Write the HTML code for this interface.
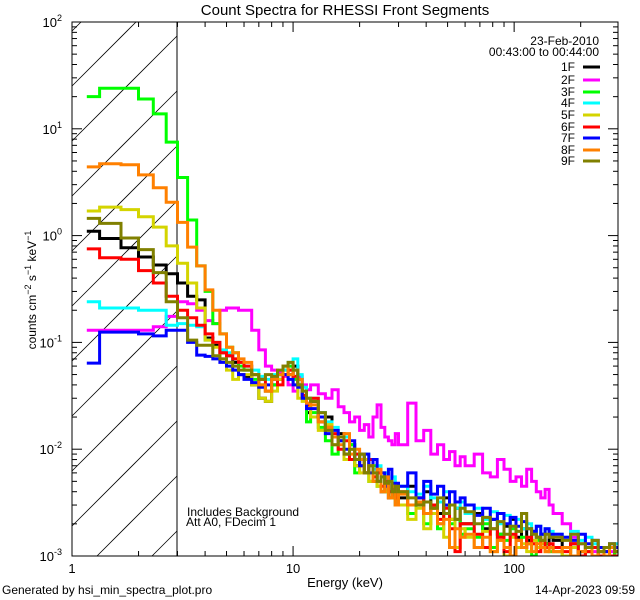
<!DOCTYPE html>
<html><head><meta charset="utf-8"><style>
html,body{margin:0;padding:0;background:#fff;width:640px;height:600px;overflow:hidden;}
svg{display:block;font-family:"Liberation Sans",sans-serif;}
</style></head><body>
<svg id="chart" width="640" height="600" xmlns="http://www.w3.org/2000/svg">
<rect x="0" y="0" width="640" height="600" fill="#fff"/>
<defs><clipPath id="plotclip"><rect x="72" y="22" width="546" height="534"/></clipPath></defs>
<text x="345" y="15" font-size="15" text-anchor="middle">Count Spectra for RHESSI Front Segments</text>
<g id="hatch" stroke="#000" stroke-width="0.8"></g>
<line x1="177" y1="22" x2="177" y2="556" stroke="#000" stroke-width="1"/>
<g id="series" clip-path="url(#plotclip)"></g>
<g id="axes" stroke="#000" stroke-width="1" fill="none"></g>
<g id="labels" font-size="13"></g>
<text transform="translate(36,290) rotate(-90)" font-size="12" text-anchor="middle">counts cm<tspan dy="-5" font-size="9">−2</tspan><tspan dy="5"> s</tspan><tspan dy="-5" font-size="9">−1</tspan><tspan dy="5"> keV</tspan><tspan dy="-5" font-size="9">−1</tspan></text>
<text x="345" y="587" font-size="13" text-anchor="middle">Energy (keV)</text>
<text x="2" y="594" font-size="12">Generated by hsi_min_spectra_plot.pro</text>
<text x="635" y="594" font-size="12" text-anchor="end">14-Apr-2023 09:59</text>
<text x="599" y="45" font-size="12" text-anchor="end">23-Feb-2010</text>
<text x="599" y="56" font-size="12" text-anchor="end">00:43:00 to 00:44:00</text>
<text x="187" y="516" font-size="12">Includes Background</text>
<text x="186" y="526" font-size="12">Att A0, FDecim 1</text>
<g id="legend" font-size="12"></g>
</svg>
<script>
const segLabels = ["1F","2F","3F","4F","5F","6F","7F","8F","9F"];
const segColors = ["#000000","#ff00ff","#00ff00","#00ffff","#d4d400","#ff0000","#0000ff","#ff8000","#808000"];
const edgeSpec = [[1.1667,1.3333,0],[1.3333,6,1/3],[6,12,0.5],[12,30,1],[30,60,3],[60,150,6],[150,300,15]];
const xTicksMajor = [1,10,100];
const xTickLabels = ["1","10","100"];
const yDecades = [-3,-2,-1,0,1,2];
const s1F = [1.1,0.94,0.77,0.63,0.53,0.44,0.36,0.27,0.25,0.11,0.095,0.08,0.075,0.065,0.05,
 0.048,0.04,0.03,0.028,0.04,0.045,0.05,0.05,0.06,0.045,0.03,0.022,
 .028,.018,.02,.013,.014,.009,.011,.007,.009,.006,.008,.005,.006,.004,.0055,.0035,.0048,.003,
 .0035,.0045,.003,.004,.0028,.0025,.0035,.0022,.0028,.002,
 .002,.0025,.0018,.0022,.0016,.0019,.0022,.0015,.0018,.0014,.0017,.0015,.0016,.0013,.0015,
 .0014,.0012,.0013,.0011,.0012,.001,.0011,.0012,.001,.0011];
const s2F = [0.13,0.13,0.13,0.13,0.14,0.175,0.24,0.23,0.2,0.16,0.15,0.2,0.21,0.21,0.2,
 0.2,0.13,0.085,0.06,0.055,0.052,0.048,0.04,0.035,0.048,0.04,0.036,
 .04,.033,.03,.036,.025,.022,.018,.02,.015,.017,.013,.02,.026,.016,.013,.012,.011,.014,
 .011,.027,.012,.015,.009,.011,.008,.0095,.007,.0085,
 .007,.009,.006,.0055,.008,.0065,.005,.0055,.0045,.0065,.005,.004,.0035,.0042,.003,
 .0025,.002,.0015,.0013,.0012,.0011,.0012,.001,.0011,.0012];
const s3F = [20,24,24,19,13.8,7.5,3.5,1.4,0.52,0.3,0.15,0.12,0.09,0.08,0.06,
 0.055,0.045,0.04,0.035,0.04,0.05,0.055,0.06,0.045,0.04,0.03,0.018,
 .022,.016,.012,.009,.013,.008,.011,.006,.008,.006,.005,.007,.0045,.006,.004,.005,.0035,.0045,
 .003,.0025,.0035,.002,.003,.0018,.0025,.002,.0022,.0016,
 .0018,.0015,.002,.0012,.0016,.0014,.0018,.0012,.0015,.0013,.001,.0014,.0012,.0013,.0011,
 .0011,.001,.0012,.0009,.0011,.001,.0012,.0009,.001,.0011];
const s4F = [0.24,0.21,0.21,0.2,0.2,0.145,0.15,0.145,0.14,0.105,0.1,0.085,0.08,0.07,0.065,
 0.06,0.055,0.048,0.045,0.05,0.05,0.055,0.065,0.07,0.05,0.038,0.03,
 .03,.022,.018,.016,.012,.013,.01,.009,.008,.009,.007,.0065,.007,.0055,.006,.005,.0055,.0045,
 .0045,.004,.0038,.0045,.0035,.0032,.004,.003,.0028,.0032,
 .0025,.0028,.0022,.0026,.002,.0024,.0019,.0022,.0018,.002,.0017,.0019,.0016,.0018,.0017,
 .0016,.0015,.0017,.0014,.0015,.0013,.0012,.0011,.0012,.0013];
const s5F = [1.7,1.85,1.75,1.5,1.2,0.8,0.55,0.36,0.21,0.105,0.09,0.07,0.055,0.045,0.05,
 0.05,0.04,0.03,0.028,0.035,0.045,0.05,0.055,0.04,0.03,0.028,0.025,
 .02,.015,.017,.011,.012,.008,.01,.007,.006,.008,.005,.006,.0045,.0055,.004,.005,.0035,.003,
 .003,.0022,.0028,.0018,.0025,.002,.0015,.0022,.0012,.0018,
 .0015,.0012,.0017,.0011,.0014,.001,.0015,.0012,.0013,.0011,.0014,.0012,.0013,.0011,.0012,
 .0011,.0009,.0012,.001,.0011,.0009,.001,.0012,.001,.0009];
const s6F = [0.75,0.62,0.6,0.47,0.36,0.27,0.2,0.17,0.145,0.12,0.1,0.08,0.075,0.07,0.065,
 0.06,0.05,0.045,0.035,0.045,0.04,0.05,0.055,0.048,0.04,0.032,0.026,
 .03,.02,.016,.014,.01,.012,.008,.009,.007,.006,.008,.0055,.006,.0045,.005,.004,.0042,.0035,
 .004,.003,.0035,.0025,.003,.0022,.0028,.0018,.0011,.002,
 .002,.0016,.0012,.0018,.0015,.0011,.0016,.0014,.0012,.0015,.0013,.0011,.0014,.0012,.0013,
 .0012,.0011,.0013,.001,.0011,.0012,.001,.0011,.0009,.001];
const s7F = [0.064,0.125,0.125,0.12,0.115,0.13,0.13,0.1,0.076,0.074,0.07,0.065,0.06,0.055,0.05,
 0.045,0.042,0.038,0.04,0.045,0.05,0.05,0.045,0.04,0.038,0.03,0.024,
 .024,.02,.014,.015,.012,.01,.012,.008,.007,.009,.006,.008,.005,.006,.0045,.0065,.004,.0048,
 .0045,.006,.0035,.005,.0038,.0045,.003,.004,.0032,.0035,
 .003,.0024,.0028,.0022,.0025,.002,.0023,.0019,.0021,.0018,.0017,.0019,.0016,.0018,.0016,
 .0016,.0015,.0014,.0016,.0013,.0014,.0012,.0011,.0013,.0012];
const s8F = [4.4,4.7,4.6,3.7,2.8,2.05,1.33,0.78,0.52,0.31,0.2,0.12,0.09,0.08,0.07,
 0.065,0.05,0.04,0.035,0.045,0.05,0.06,0.05,0.055,0.045,0.035,0.027,
 .026,.018,.016,.013,.011,.014,.009,.01,.008,.006,.007,.005,.0065,.004,.0055,.0035,.0045,.003,
 .0038,.003,.0032,.0025,.0028,.002,.0022,.0012,.0018,.0015,
 .0016,.0012,.0015,.0011,.0014,.0012,.001,.0014,.0012,.0013,.0011,.0013,.0012,.0011,.0012,
 .0011,.0012,.001,.0011,.0012,.0009,.0011,.001,.0012,.0011];
const s9F = [1.45,1.3,0.95,0.74,0.45,0.24,0.17,0.105,0.094,0.094,0.075,0.07,0.065,0.06,0.055,
 0.055,0.05,0.045,0.05,0.048,0.055,0.06,0.065,0.055,0.04,0.035,0.03,
 .028,.022,.015,.011,.013,.009,.01,.008,.009,.006,.007,.006,.005,.0055,.0048,.005,.004,.0045,
 .004,.0035,.003,.0032,.0028,.0035,.0025,.003,.0022,.0028,
 .0026,.002,.0023,.0018,.0021,.0016,.0019,.0017,.0025,.0018,.0016,.0015,.0014,.0016,.0015,
 .0015,.0014,.0016,.0013,.0012,.0014,.0011,.0012,.0013,.0011];
const allSeries = [s1F,s2F,s3F,s4F,s5F,s6F,s7F,s8F,s9F];

const NS="http://www.w3.org/2000/svg";
const X0=72,X1=618,Y0=22,Y1=556;
const LXMAX=Math.log10(295);
function xs(e){return X0+(Math.log10(e))/LXMAX*(X1-X0);}
function ys(v){return Y0+(2-Math.log10(v))/5*(Y1-Y0);}
function clampY(v){return Math.max(Y0,Math.min(Y1,v));}
function mk(tag,attrs,parent){const el=document.createElementNS(NS,tag);for(const k in attrs)el.setAttribute(k,attrs[k]);parent.appendChild(el);return el;}

const edges=[edgeSpec[0][0],edgeSpec[0][1]];
for(let i=1;i<edgeSpec.length;i++){const [a,b,st]=edgeSpec[i];const n=Math.round((b-a)/st);for(let k=1;k<=n;k++)edges.push(a+k*st);}
edges[edges.length-1]=295;

// hatch lines: y = b - (x - 72), restricted to the hatch rect [72,177]x[22,556]
const hatch=document.getElementById('hatch');
const HX1=177;
for(let b=86-220;b<=Y1+105;b+=55){
  let xa=X0, ya=b;
  if(ya>Y1){xa=X0+(ya-Y1);ya=Y1;}
  let xb=HX1, yb=b-(HX1-X0);
  if(yb<Y0){xb=X0+(b-Y0);yb=Y0;}
  if(xa>=xb||xa>HX1||xb<X0)continue;
  const ln=mk('line',{x1:xa,y1:ya,x2:xb,y2:yb},hatch);
  
  
}

const sg=document.getElementById('series');
allSeries.forEach((vals,i)=>{
  let d='M'+xs(edges[0]).toFixed(1)+','+clampY(ys(vals[0])).toFixed(1);
  for(let k=0;k<vals.length;k++){
    if(k>0)d+='V'+clampY(ys(vals[k])).toFixed(1);
    d+='H'+Math.min(X1,xs(edges[k+1])).toFixed(1);
  }
  const p=mk('path',{d:d,fill:'none',stroke:segColors[i],'stroke-width':3,'stroke-linejoin':'miter'},sg);
  
  
});

const ax=document.getElementById('axes');
const frame=mk('rect',{x:X0,y:Y0,width:X1-X0,height:Y1-Y0},ax);


const lab=document.getElementById('labels');
for(let dec=0;dec<3;dec++){
  for(let m=1;m<10;m++){
    const e=m*Math.pow(10,dec);
    if(e>295)break;
    const x=xs(e);const len=m===1?10:5;
    const t1=mk('line',{x1:x,y1:Y1,x2:x,y2:Y1-len},ax);
    
    
    const t2=mk('line',{x1:x,y1:Y0,x2:x,y2:Y0+len},ax);
    
    
  }
}
xTicksMajor.forEach((e,i)=>{
  const t=mk('text',{x:xs(e),y:573,'text-anchor':'middle'},lab);t.textContent=xTickLabels[i];
  
  
});
yDecades.forEach(dec=>{
  for(let m=1;m<10;m++){
    const v=m*Math.pow(10,dec);
    if(dec===2&&m>1)break;
    const y=ys(v);const len=m===1?10:5;
    const t1=mk('line',{x1:X0,y1:y,x2:X0+len,y2:y},ax);
    
    
    const t2=mk('line',{x1:X1,y1:y,x2:X1-len,y2:y},ax);
    
    
  }
  const t=mk('text',{x:62,y:ys(Math.pow(10,dec))+5,'text-anchor':'end'},lab);
  t.innerHTML='10<tspan dy="-6" font-size="9">'+dec+'</tspan>';
  
  
});

const lg=document.getElementById('legend');
const legY=[67,80,92,103,115,127,138,150,161];
segLabels.forEach((s,i)=>{
  const g=mk('g',{},lg);
  
  
  const t=mk('text',{x:575,y:legY[i]+4,'text-anchor':'end'},g);t.textContent=s;
  mk('line',{x1:583,y1:legY[i],x2:600,y2:legY[i],stroke:segColors[i],'stroke-width':3},g);
});
</script>
</body></html>
